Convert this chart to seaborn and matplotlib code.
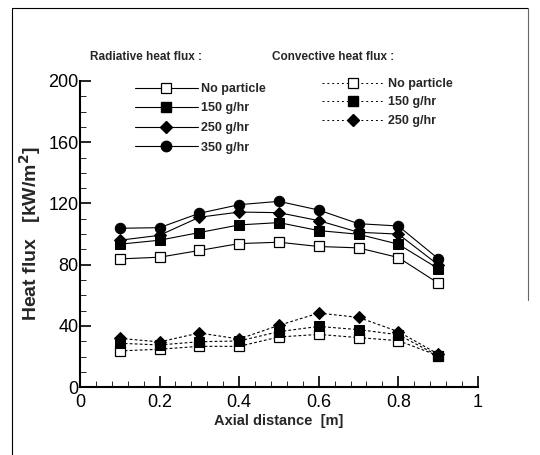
import matplotlib
matplotlib.use("Agg")
import matplotlib.pyplot as plt
import matplotlib.ticker as mticker
from matplotlib.lines import Line2D
import pandas as pd
import seaborn as sns

axial = [0.1, 0.2, 0.3, 0.4, 0.5, 0.6, 0.7, 0.8, 0.9]

rad_none = [83.8, 84.9, 89.3, 93.8, 94.7, 91.9, 91.0, 84.7, 68.0]
rad_150 = [93.4, 96.0, 101.0, 106.0, 107.5, 102.3, 99.9, 93.4, 77.5]
rad_250 = [96.0, 99.2, 111.0, 114.4, 114.0, 108.8, 101.2, 100.0, 80.0]
rad_350 = [103.8, 104.2, 113.6, 119.2, 121.4, 115.7, 106.8, 105.3, 84.0]

conv_none = [23.7, 24.8, 26.7, 26.7, 32.8, 34.5, 32.4, 30.4, 20.6]
conv_150 = [28.7, 27.6, 29.7, 30.2, 36.3, 39.7, 37.6, 34.3, 20.6]
conv_250 = [31.9, 29.6, 35.4, 31.5, 40.4, 48.4, 45.6, 36.3, 21.7]

labels_rad = ["No particle", "150 g/hr", "250 g/hr", "350 g/hr"]
labels_conv = ["No particle", "150 g/hr", "250 g/hr"]

xticks = [0, 0.2, 0.4, 0.6, 0.8, 1]
xticklabels = ["0", "0.2", "0.4", "0.6", "0.8", "1"]
yticks = [0, 40, 80, 120, 160, 200]

sns.set_style("ticks")
plt.rcParams["font.family"] = ["Liberation Sans", "DejaVu Sans"]

MARKERS = [
    dict(marker="s", markersize=7, markerfacecolor="white", markeredgecolor="black", markeredgewidth=0.9),
    dict(marker="s", markersize=6.5, markerfacecolor="black", markeredgecolor="black"),
    dict(marker="D", markersize=6, markerfacecolor="black", markeredgecolor="black"),
    dict(marker="o", markersize=7.5, markerfacecolor="black", markeredgecolor="black"),
]

fig = plt.figure(figsize=(5.4, 4.55), dpi=100)
ax = fig.add_axes([0.148, 0.149, 0.737, 0.673])

rad_series = [rad_none, rad_150, rad_250, rad_350]
conv_series = [conv_none, conv_150, conv_250]

rad_handles = []
for vals, lab, mk in zip(rad_series, labels_rad, MARKERS):
    sns.lineplot(x=axial, y=vals, ax=ax, color="black", linewidth=0.8, **mk)
    rad_handles.append(Line2D([], [], color="black", linewidth=0.8, label=lab, **mk))

conv_handles = []
for vals, lab, mk in zip(conv_series, labels_conv, MARKERS):
    sns.lineplot(x=axial, y=vals, ax=ax, color="black", linewidth=0.8,
                 linestyle=(0, (2.5, 2)), **mk)
    conv_handles.append(Line2D([], [], color="black", linewidth=0.7, linestyle=(0, (2, 3)),
                               label=lab, **mk))

ax.set_xlim(0, 1)
ax.set_ylim(0, 200)
ax.set_xticks(xticks)
ax.set_xticklabels(xticklabels)
ax.set_yticks(yticks)
ax.xaxis.set_minor_locator(mticker.MultipleLocator(0.04))
ax.yaxis.set_minor_locator(mticker.MultipleLocator(10))
ax.tick_params(axis="both", which="major", direction="in", length=8, width=1.2,
               labelsize=13, colors="black")
ax.tick_params(axis="both", which="minor", direction="in", length=4, width=0.7)
ax.tick_params(axis="x", which="major", pad=5)
ax.tick_params(axis="y", which="major", pad=1)
for side in ["top", "right"]:
    ax.spines[side].set_visible(False)
for side in ["left", "bottom"]:
    ax.spines[side].set_linewidth(1.5)
    ax.spines[side].set_color("black")

ax.set_xlabel("Axial distance  [m]", fontsize=10.5, fontweight="bold", labelpad=2)
ax.set_ylabel("Heat flux   [kW/m$^\\mathbf{2}$]", fontsize=14, fontweight="bold", labelpad=4)

leg_kw = dict(frameon=False, prop={"size": 9, "weight": "bold"}, handlelength=5,
              handletextpad=0.25, borderaxespad=0, borderpad=0,
              bbox_transform=fig.transFigure, loc="upper left")
leg1 = ax.legend(handles=rad_handles, bbox_to_anchor=(135 / 540, 1 - 83 / 455),
                 labelspacing=0.6, **leg_kw)
ax.add_artist(leg1)
ax.legend(handles=conv_handles, bbox_to_anchor=(322 / 540, 1 - 78 / 455),
          labelspacing=0.52, **leg_kw)

fig.text(90 / 540, 1 - 57 / 455, "Radiative heat flux :", fontsize=8.5, fontweight="bold",
         va="center", ha="left")
fig.text(272 / 540, 1 - 57 / 455, "Convective heat flux :", fontsize=8.5, fontweight="bold",
         va="center", ha="left")

# scanned page frame
fig.add_artist(Line2D([12 / 540, 12 / 540], [0, 1 - 8 / 455], transform=fig.transFigure,
                      color="black", linewidth=0.8))
fig.add_artist(Line2D([12 / 540, 528 / 540], [1 - 8 / 455, 1 - 8 / 455], transform=fig.transFigure,
                      color="black", linewidth=0.8))
fig.add_artist(Line2D([528 / 540, 528 / 540], [1 - 8 / 455, 1 - 300 / 455], transform=fig.transFigure,
                      color="0.4", linewidth=0.8))

fig.savefig("out.png", dpi=100)
